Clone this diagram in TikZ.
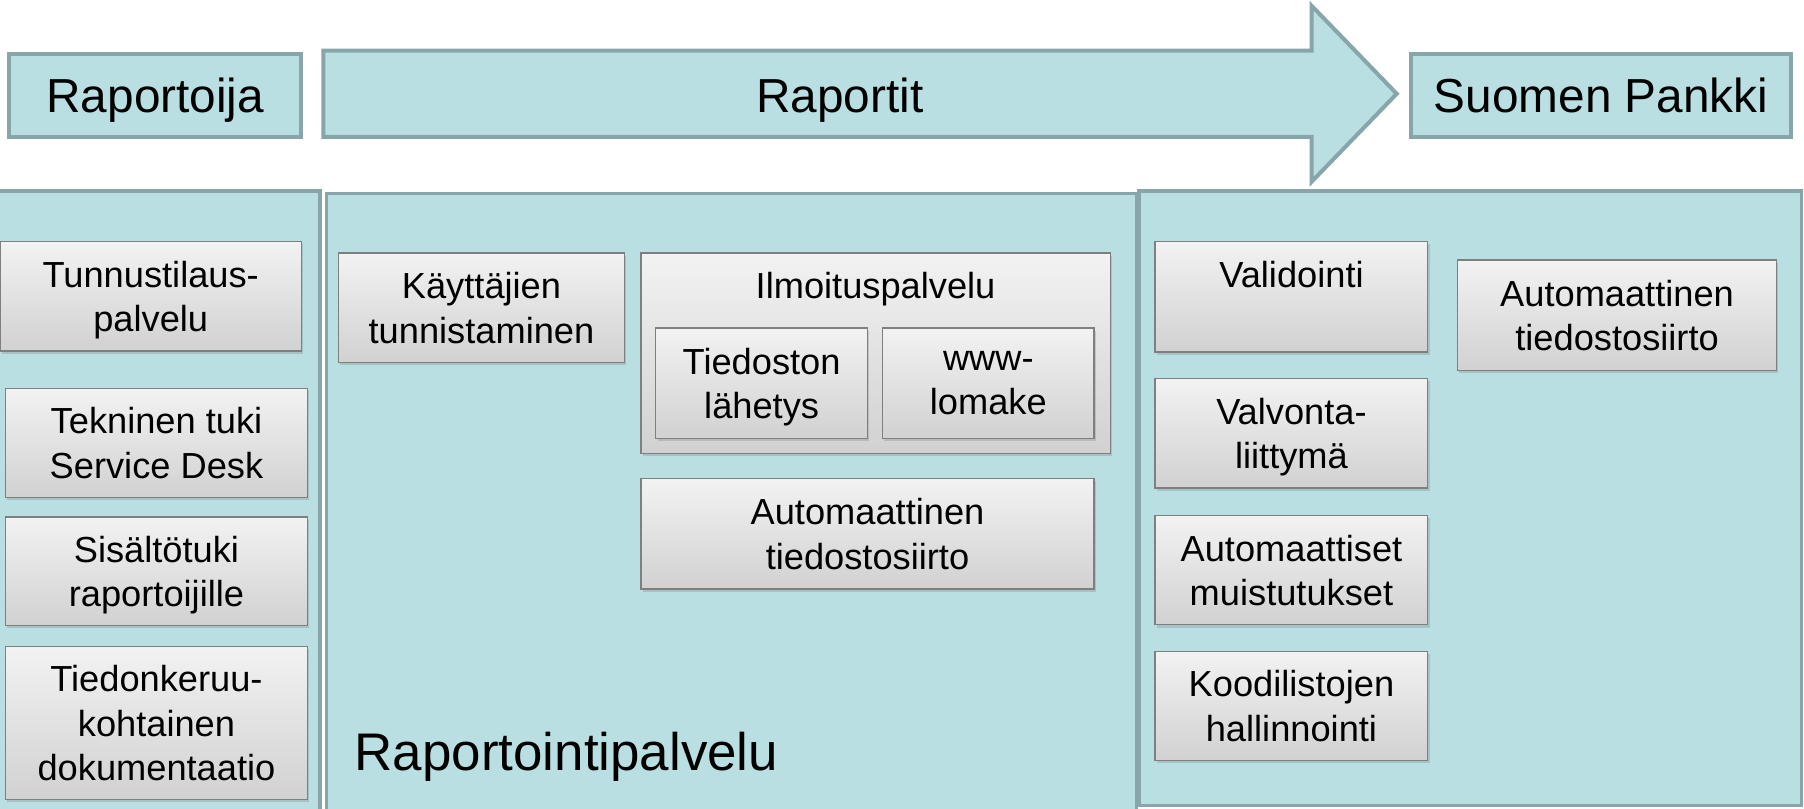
\documentclass[tikz,border=0pt]{standalone}
\usepackage{fontspec}
\setmainfont{Liberation Sans}
\usetikzlibrary{shadows}
\definecolor{panelfill}{HTML}{B9DFE3}
\definecolor{paneledge}{HTML}{88A6A9}
\definecolor{tileedge}{HTML}{7F7F7F}
\def\bodysize{\fontsize{31.5}{38.5}\selectfont}
\def\headsize{\fontsize{41.5}{48}\selectfont}

\begin{document}
\begin{tikzpicture}[x=1pt,y=-1pt]
    \tikzstyle{panel}=[draw=paneledge,line width=3pt,fill=panelfill,inner sep=0pt]
    \tikzstyle{head}=[panel,line width=3.5pt,font=\headsize,text depth=0pt]
    \tikzstyle{tile}=[draw=tileedge,line width=1.2pt,top color=black!5,bottom color=black!18,
        align=center,font=\bodysize,inner sep=0pt,text depth=0pt,
        execute at begin node={\rule{0pt}{22.5pt}},
        drop shadow={shadow xshift=1.5pt,shadow yshift=-2.5pt,opacity=0.3}]
    \useasboundingbox (0,0) rectangle (1568,703);
    \clip (0,0) rectangle (1568,703);
    \fill[white] (0,0) rectangle (1568,703);
    % Draw the three areas
    \node[panel,minimum width=288,minimum height=554] (pR) at (134,443) {};
    \node[panel,minimum width=704,minimum height=552] (pP) at (636,444) {};
    \node[panel,minimum width=576,minimum height=534] (pS) at (1278,433) {};
    % Draw the header row
    \node[head,minimum width=254,minimum height=72] (R) at (135,83) {Raportoija};
    \node[head,minimum width=331,minimum height=72] (S) at (1391.5,83) {Suomen Pankki};
    \draw[draw=paneledge,line width=3.5pt,fill=panelfill,line join=miter]
      (281,44) -- (1140,44) -- (1140,5) -- (1214,81.5) -- (1140,158) -- (1140,119) -- (281,119) -- cycle;
    \node[font=\headsize,text depth=0pt] (A) at (730,83) {Raportit};
    % Reporter side
    \node[tile,minimum width=262,minimum height=95] (T1) at (131,257.5) {Tunnustilaus-\\palvelu};
    \node[tile,minimum width=262,minimum height=95] (T2) at (136,385) {Tekninen tuki\\Service Desk};
    \node[tile,minimum width=262,minimum height=94] (T3) at (136,496.5) {Sisältötuki\\raportoijille};
    \node[tile,minimum width=262,minimum height=133] (T4) at (136,628.5) {Tiedonkeruu-\\kohtainen\\dokumentaatio};
    % Service
    \node[tile,minimum width=249,minimum height=95] (K) at (418.5,267.5) {Käyttäjien\\tunnistaminen};
    \node[tile,minimum width=408,minimum height=174] (I) at (761,307) {};
    \node[font=\bodysize,text height=22.5pt,text depth=0pt,inner sep=0pt] (It) at (761,248) {Ilmoituspalvelu};
    \node[tile,minimum width=184,minimum height=96] (I1) at (662,333) {Tiedoston\\lähetys};
    \node[tile,minimum width=184,minimum height=96] (I2) at (859,333) {www-\\lomake};
    \node[tile,minimum width=394,minimum height=96] (F1) at (754,464) {Automaattinen\\tiedostosiirto};
    \node[font=\fontsize{46}{55}\selectfont,anchor=base west,inner sep=0pt] (L) at (308,670) {Raportointipalvelu};
    % Bank side
    \node[tile,minimum width=237,minimum height=96] (V1) at (1122.5,258) {Validointi\\~};
    \node[tile,minimum width=237,minimum height=95] (V2) at (1122.5,376.5) {Valvonta-\\liittymä};
    \node[tile,minimum width=237,minimum height=95] (V3) at (1122.5,495.5) {Automaattiset\\muistutukset};
    \node[tile,minimum width=237,minimum height=95] (V4) at (1122.5,613.5) {Koodilistojen\\hallinnointi};
    \node[tile,minimum width=277,minimum height=96] (F2) at (1405.5,274) {Automaattinen\\tiedostosiirto};
\end{tikzpicture}
\end{document}
